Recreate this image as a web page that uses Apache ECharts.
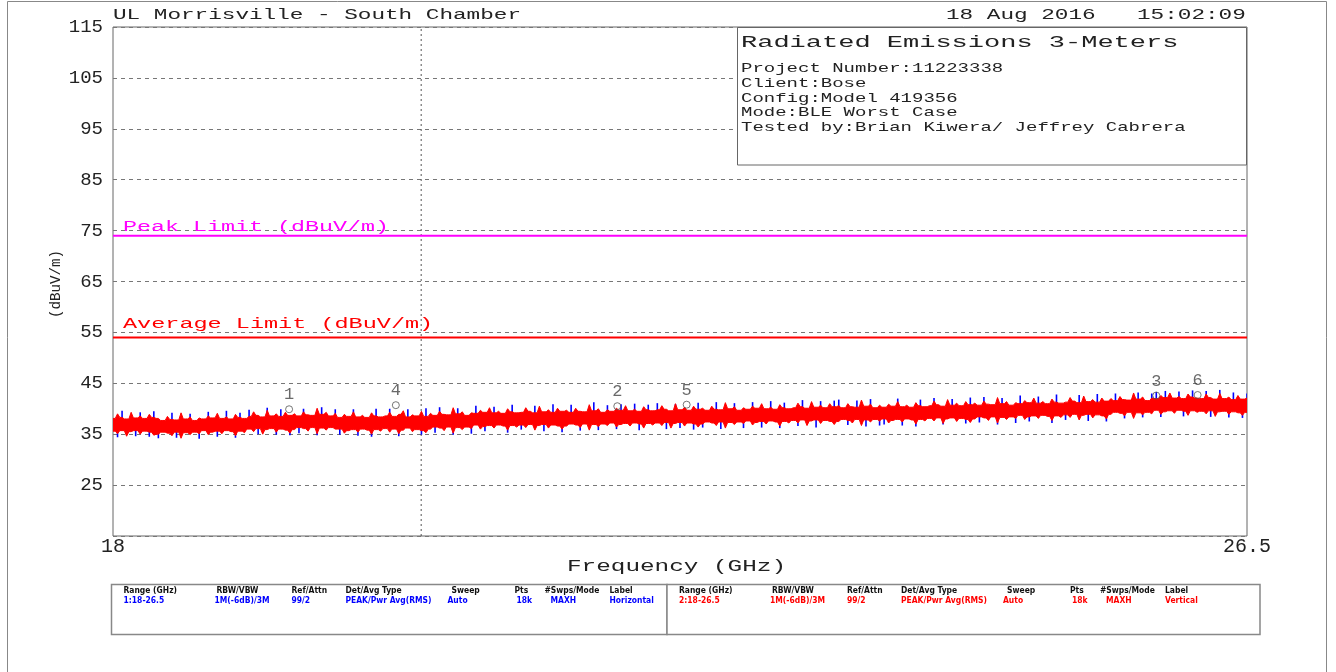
<!DOCTYPE html>
<html>
<head>
<meta charset="utf-8">
<title>Radiated Emissions 3-Meters</title>
<script src="https://cdn.jsdelivr.net/npm/echarts@6/dist/echarts.min.js"></script>
<style>
  html, body { margin: 0; padding: 0; background: #fff; }
  #chart { width: 1336px; height: 672px; }
</style>
</head>
<body>
<div id="chart"></div>
<script>
// Sweep span (GHz) and level scale (dBuV/m)
const startGHz = 18;
const stopGHz = 26.5;
const yMin = 15;
const yMax = 115;

// Per-bin envelope (max / min hold) of the two analyzer traces, 251 display bins across the span
const redHi = [
  38.1, 39.0, 38.3, 38.0, 39.3, 38.2, 38.6, 38.1, 38.9, 38.3,
  38.1, 37.7, 38.5, 37.9, 37.8, 39.2, 38.0, 38.4, 37.7, 38.2,
  38.0, 38.6, 38.2, 39.1, 38.1, 38.4, 38.0, 38.9, 38.3, 38.1,
  38.5, 39.4, 38.7, 38.4, 39.7, 38.6, 39.0, 38.5, 39.3, 38.7,
  39.0, 38.6, 39.4, 38.8, 38.7, 40.1, 38.9, 39.3, 38.6, 39.1,
  38.3, 38.9, 38.5, 39.4, 38.4, 38.7, 38.3, 39.2, 38.6, 38.4,
  38.6, 39.3, 38.5, 38.9, 39.6, 38.4, 38.8, 38.6, 39.5, 38.5,
  39.1, 38.7, 39.5, 38.9, 38.8, 40.2, 39.0, 39.4, 38.7, 39.2,
  39.1, 39.7, 39.3, 40.2, 39.2, 39.5, 39.1, 40.0, 39.4, 39.2,
  39.3, 40.2, 39.5, 39.2, 40.5, 39.4, 39.8, 39.3, 40.1, 39.5,
  39.7, 39.3, 40.1, 39.5, 39.4, 40.8, 39.6, 40.0, 39.3, 39.8,
  39.5, 40.1, 39.7, 40.6, 39.6, 39.9, 39.5, 40.4, 39.8, 39.6,
  39.8, 40.6, 39.9, 39.6, 41.0, 39.8, 40.3, 39.7, 40.5, 39.9,
  40.1, 39.7, 40.5, 39.9, 39.8, 41.2, 40.0, 40.4, 39.7, 40.2,
  39.9, 40.5, 40.1, 41.0, 40.0, 40.3, 39.9, 40.8, 40.2, 40.0,
  40.2, 41.1, 40.4, 40.1, 41.4, 40.3, 40.7, 40.2, 41.0, 40.4,
  40.6, 40.2, 41.0, 40.4, 40.3, 41.7, 40.5, 40.9, 40.2, 40.7,
  40.3, 40.9, 40.5, 41.4, 40.4, 40.7, 40.3, 41.2, 40.6, 40.4,
  40.6, 41.5, 40.8, 40.5, 41.8, 40.7, 41.1, 40.6, 41.4, 40.8,
  41.1, 40.7, 41.5, 40.9, 40.8, 42.2, 41.0, 41.4, 40.7, 41.2,
  41.0, 41.6, 41.2, 42.1, 41.1, 41.4, 41.0, 41.9, 41.3, 41.1,
  41.3, 42.2, 41.5, 41.2, 42.5, 41.4, 41.8, 41.3, 42.1, 41.5,
  42.0, 41.6, 42.4, 41.8, 41.7, 43.1, 41.9, 42.3, 41.6, 42.1,
  42.0, 42.6, 42.2, 43.1, 42.1, 42.4, 42.0, 42.9, 42.3, 42.1,
  42.0, 42.9, 42.2, 41.9, 43.0, 42.0, 42.3, 41.8, 42.6, 41.9, 42.1
];
const redLo = [
  35.6, 35.1, 35.7, 34.6, 35.5, 35.7, 35.0, 35.6, 35.4, 34.8,
  35.0, 35.4, 35.2, 34.7, 35.4, 34.2, 35.3, 34.9, 35.4, 35.1,
  35.7, 34.9, 35.4, 35.6, 35.1, 35.7, 35.5, 34.7, 35.6, 35.3,
  36.0, 35.5, 36.1, 35.0, 35.9, 36.1, 35.4, 36.0, 35.8, 35.2,
  35.9, 36.3, 36.1, 35.6, 36.3, 35.1, 36.2, 35.8, 36.3, 36.0,
  36.0, 35.2, 35.7, 35.9, 35.4, 36.0, 35.8, 35.0, 35.9, 35.6,
  36.1, 35.4, 36.0, 35.1, 35.8, 36.2, 35.5, 35.9, 35.7, 35.3,
  36.0, 36.4, 36.2, 35.7, 36.4, 35.2, 36.3, 35.9, 36.4, 36.1,
  36.8, 36.0, 36.5, 36.7, 36.2, 36.8, 36.6, 35.8, 36.7, 36.4,
  36.8, 36.3, 36.9, 35.8, 36.7, 36.9, 36.2, 36.8, 36.6, 36.0,
  36.6, 37.0, 36.8, 36.3, 37.0, 35.8, 36.9, 36.5, 37.0, 36.7,
  37.2, 36.4, 36.9, 37.1, 36.6, 37.2, 37.0, 36.2, 37.1, 36.8,
  37.2, 36.7, 37.3, 36.2, 37.1, 37.3, 36.6, 37.2, 37.0, 36.4,
  37.0, 37.4, 37.2, 36.7, 37.4, 36.2, 37.3, 36.9, 37.4, 37.1,
  37.6, 36.8, 37.3, 37.5, 37.0, 37.6, 37.4, 36.6, 37.5, 37.2,
  37.7, 37.2, 37.8, 36.7, 37.6, 37.8, 37.1, 37.7, 37.5, 36.9,
  37.5, 37.9, 37.7, 37.2, 37.9, 36.7, 37.8, 37.4, 37.9, 37.6,
  38.0, 37.2, 37.7, 37.9, 37.4, 38.0, 37.8, 37.0, 37.9, 37.6,
  38.1, 37.6, 38.2, 37.1, 38.0, 38.2, 37.5, 38.1, 37.9, 37.3,
  38.0, 38.4, 38.2, 37.7, 38.4, 37.2, 38.3, 37.9, 38.4, 38.1,
  38.7, 37.9, 38.4, 38.6, 38.1, 38.7, 38.5, 37.7, 38.6, 38.3,
  38.8, 38.3, 38.9, 37.8, 38.7, 38.9, 38.2, 38.8, 38.6, 38.0,
  38.9, 39.3, 39.1, 38.6, 39.3, 38.1, 39.2, 38.8, 39.3, 39.0,
  39.7, 38.9, 39.4, 39.6, 39.1, 39.7, 39.5, 38.7, 39.6, 39.3,
  39.5, 39.0, 39.6, 38.5, 39.4, 39.5, 38.9, 39.4, 39.2, 38.7, 39.3
];
const blueHi = [
  37.9, 37.9, 39.6, 37.9, 37.9, 37.9, 39.3, 37.9, 37.9, 39.5,
  37.6, 37.6, 37.6, 39.2, 37.6, 37.6, 37.6, 39.0, 37.6, 37.6,
  37.9, 39.4, 37.9, 37.9, 37.9, 39.6, 37.9, 37.9, 39.2, 37.9,
  39.8, 38.3, 38.3, 38.3, 40.2, 38.3, 38.3, 39.9, 38.3, 38.3,
  38.5, 38.5, 40.0, 38.5, 38.5, 38.5, 40.3, 38.5, 38.5, 39.9,
  38.2, 38.2, 38.2, 39.9, 38.2, 38.2, 38.2, 38.2, 40.0, 38.2,
  38.3, 40.0, 38.3, 38.3, 38.3, 39.9, 38.3, 38.3, 38.3, 40.1,
  38.6, 38.6, 40.3, 38.6, 38.6, 38.6, 40.1, 38.6, 38.6, 38.6,
  40.6, 39.0, 39.0, 39.0, 40.4, 39.0, 39.0, 39.0, 40.8, 39.0,
  39.1, 39.1, 39.1, 40.6, 39.1, 39.1, 39.1, 40.9, 39.1, 39.1,
  39.2, 40.8, 39.2, 39.2, 39.2, 39.2, 41.3, 39.2, 39.2, 40.7,
  39.4, 39.4, 40.9, 39.4, 39.4, 41.0, 39.4, 39.4, 40.8, 39.4,
  41.1, 39.5, 39.5, 39.5, 40.9, 39.5, 39.5, 39.5, 39.5, 41.2,
  39.6, 39.6, 39.6, 41.3, 39.6, 39.6, 39.6, 41.1, 39.6, 39.6,
  39.8, 41.3, 39.8, 39.8, 39.8, 41.5, 39.8, 39.8, 41.2, 39.8,
  40.0, 40.0, 41.7, 40.0, 40.0, 40.0, 41.5, 40.0, 40.0, 41.6,
  41.8, 40.1, 40.1, 40.1, 41.6, 40.1, 40.1, 41.9, 40.1, 40.1,
  40.2, 40.2, 40.2, 42.0, 40.2, 40.2, 40.2, 40.2, 41.8, 40.2,
  40.4, 42.1, 40.4, 40.4, 40.4, 41.9, 40.4, 40.4, 40.4, 42.2,
  40.6, 40.6, 42.3, 40.6, 40.6, 40.6, 42.1, 40.6, 40.6, 40.6,
  42.6, 40.9, 40.9, 40.9, 42.4, 40.9, 40.9, 40.9, 42.8, 40.9,
  41.1, 41.1, 41.1, 42.7, 41.1, 41.1, 41.1, 42.9, 41.1, 41.1,
  41.5, 43.0, 41.5, 41.5, 41.5, 41.5, 43.2, 41.5, 41.5, 43.0,
  43.3, 41.9, 43.5, 41.9, 41.9, 43.4, 41.9, 41.9, 43.6, 41.9,
  41.7, 43.5, 41.7, 41.7, 43.7, 41.7, 41.7, 43.2, 41.7, 41.7, 43.0
];
const blueLo = [
  35.9, 34.4, 35.9, 35.9, 35.9, 34.6, 35.9, 35.9, 34.5, 35.9,
  34.2, 35.6, 35.6, 35.6, 34.3, 35.6, 35.6, 35.6, 35.6, 34.1,
  35.9, 35.9, 35.9, 34.5, 35.9, 35.9, 35.9, 34.3, 35.9, 35.9,
  36.3, 36.3, 35.0, 36.3, 36.3, 36.3, 34.9, 36.3, 36.3, 34.8,
  36.5, 35.2, 36.5, 36.5, 36.5, 34.8, 36.5, 36.5, 36.5, 36.5,
  34.9, 36.2, 36.2, 36.2, 34.7, 36.2, 36.2, 34.5, 36.2, 36.2,
  36.3, 36.3, 36.3, 34.6, 36.3, 36.3, 36.3, 36.3, 34.9, 36.3,
  36.6, 35.3, 36.6, 36.6, 36.6, 34.9, 36.6, 36.6, 36.6, 35.1,
  37.0, 37.0, 35.6, 37.0, 37.0, 37.0, 37.0, 35.3, 37.0, 37.0,
  35.9, 37.1, 37.1, 37.1, 37.1, 35.6, 37.1, 37.1, 37.1, 35.4,
  37.2, 37.2, 37.2, 35.7, 37.2, 37.2, 37.2, 35.8, 37.2, 37.2,
  37.4, 36.0, 37.4, 37.4, 37.4, 37.4, 35.8, 37.4, 37.4, 37.4,
  37.5, 37.5, 36.0, 37.5, 37.5, 36.2, 37.5, 37.5, 35.9, 37.5,
  36.3, 37.6, 37.6, 37.6, 36.0, 37.6, 37.6, 37.6, 37.6, 36.2,
  37.8, 37.8, 37.8, 36.3, 37.8, 37.8, 37.8, 36.2, 37.8, 37.8,
  38.0, 36.6, 38.0, 38.0, 38.0, 36.3, 38.0, 38.0, 38.0, 38.0,
  38.1, 38.1, 36.8, 38.1, 38.1, 38.1, 36.5, 38.1, 38.1, 36.7,
  36.9, 38.2, 38.2, 38.2, 36.7, 38.2, 38.2, 36.5, 38.2, 38.2,
  38.4, 38.4, 38.4, 36.9, 38.4, 38.4, 38.4, 38.4, 37.1, 38.4,
  38.6, 37.3, 38.6, 38.6, 38.6, 36.9, 38.6, 38.6, 38.6, 37.2,
  38.9, 38.9, 37.5, 38.9, 38.9, 38.9, 38.9, 37.2, 38.9, 38.9,
  37.8, 39.1, 39.1, 39.1, 39.1, 37.6, 39.1, 39.1, 39.1, 37.5,
  39.5, 39.5, 39.5, 38.1, 39.5, 39.5, 39.5, 38.3, 39.5, 39.5,
  39.9, 38.4, 39.9, 39.9, 39.9, 39.9, 38.5, 39.9, 39.9, 39.9,
  39.7, 39.7, 38.4, 39.7, 39.7, 39.7, 38.3, 39.7, 39.7, 38.2, 39.7
];

// Limit lines (dBuV/m)
const peakLimit = 74;
const avgLimit = 54;

// Vertical display line (GHz)
const displayLineGHz = 20.31;

// Peak markers
const markerLabels = ['1', '2', '3', '4', '5', '6'];
const markerFreq = [19.32, 21.78, 25.82, 20.12, 22.30, 26.13];
const markerLevel = [39.9, 40.5, 42.6, 40.7, 40.8, 42.7];

// Axis tick labels
const yTickLabels = ['25', '35', '45', '55', '65', '75', '85', '95', '105', '115'];
const xTickValues = [18, 26.5];
const xTickLabels = ['18', '26.5'];

// Header texts
const siteTitle = 'UL Morrisville - South Chamber';
const testDate = '18 Aug 2016';
const testTime = '15:02:09';
const infoHeading = 'Radiated Emissions 3-Meters';
const infoLines = [
  'Project Number:11223338',
  'Client:Bose',
  'Config:Model 419356',
  'Mode:BLE Worst Case',
  'Tested by:Brian Kiwera/ Jeffrey Cabrera'
];

// Sweep settings table
const tableHeaders = ['Range (GHz)', 'RBW/VBW', 'Ref/Attn', 'Det/Avg Type', 'Sweep', 'Pts', '#Swps/Mode', 'Label'];
const sweep1Values = ['1:18-26.5', '1M(-6dB)/3M', '99/2', 'PEAK/Pwr Avg(RMS)', 'Auto', '18k', 'MAXH', 'Horizontal'];
const sweep2Values = ['2:18-26.5', '1M(-6dB)/3M', '99/2', 'PEAK/Pwr Avg(RMS)', 'Auto', '18k', 'MAXH', 'Vertical'];

// ---------------------------------------------------------------------------
const MONO = '"Liberation Mono", "DejaVu Sans Mono", monospace';
const NARROW = '"Liberation Sans Narrow", "DejaVu Sans Condensed", "Liberation Sans", sans-serif';
const INK = '#222';

const binCount = redHi.length;
const freqs = redHi.map((_, i) => startGHz + i * (stopGHz - startGHz) / (binCount - 1));

const measureCtx = document.createElement('canvas').getContext('2d');
function advanceOf(font, text) {
  measureCtx.font = font;
  return measureCtx.measureText(text).width;
}

// Plotter-style text: fixed character cell, stretched horizontally
function plotterText(text, x, y, size, cell, color, opts) {
  const font = size + 'px ' + MONO;
  const sx = cell / advanceOf(font, 'M');
  return Object.assign({
    type: 'text', x: x, y: y, scaleX: sx, z: 30, silent: true,
    style: { text: text, font: font, fill: color, align: 'left', verticalAlign: 'middle' }
  }, opts || {});
}

// Filled min/max band of a trace; each bin's max / min is drawn as a narrow peak
function traceBand(name, hi, lo, color, z) {
  return {
    type: 'custom', name: name, z: z, silent: true, clip: true,
    coordinateSystem: 'cartesian2d',
    data: [[freqs[0], lo[0]]],
    renderItem: function (params, api) {
      const pts = [];
      const n = hi.length;
      for (let i = 0; i < n; i++) {
        pts.push(api.coord([freqs[i], hi[i]]));
        if (i < n - 1) pts.push(api.coord([(freqs[i] + freqs[i + 1]) / 2, Math.min(hi[i], hi[i + 1])]));
      }
      for (let i = n - 1; i >= 0; i--) {
        pts.push(api.coord([freqs[i], lo[i]]));
        if (i > 0) pts.push(api.coord([(freqs[i] + freqs[i - 1]) / 2, Math.max(lo[i], lo[i - 1])]));
      }
      return {
        type: 'polygon', shape: { points: pts },
        style: { fill: color, stroke: color, lineWidth: 1 }
      };
    }
  };
}

// One vertical min-to-max stroke per display bin
function traceStrokes(name, hi, lo, color, z) {
  return {
    type: 'custom', name: name, z: z, silent: true, clip: true,
    coordinateSystem: 'cartesian2d',
    encode: { x: 0, y: [1, 2] },
    data: freqs.map((f, i) => [f, lo[i], hi[i]]),
    renderItem: function (params, api) {
      const a = api.coord([api.value(0), api.value(1)]);
      const b = api.coord([api.value(0), api.value(2)]);
      return {
        type: 'line', shape: { x1: a[0], y1: a[1], x2: b[0], y2: b[1] },
        style: { stroke: color, lineWidth: 1.6 }
      };
    }
  };
}

const graphics = [];
// outer page frame
graphics.push({ type: 'rect', z: 1, silent: true,
  shape: { x: 7.5, y: 1.5, width: 1319, height: 700 },
  style: { fill: 'none', stroke: '#888', lineWidth: 1 } });
// information box
graphics.push({ type: 'rect', z: 20, silent: true,
  shape: { x: 737.5, y: 27.5, width: 509, height: 137.5 },
  style: { fill: '#fff', stroke: '#666', lineWidth: 1 } });
// settings table boxes
graphics.push({ type: 'rect', z: 20, silent: true,
  shape: { x: 111.5, y: 584.5, width: 555.5, height: 50 },
  style: { fill: '#fff', stroke: '#888', lineWidth: 1.5 } });
graphics.push({ type: 'rect', z: 20, silent: true,
  shape: { x: 667, y: 584.5, width: 593, height: 50 },
  style: { fill: '#fff', stroke: '#888', lineWidth: 1.5 } });

graphics.push(plotterText(siteTitle, 113, 15, 14, 13.6, INK));
graphics.push(plotterText(testDate, 946, 15, 14, 13.6, INK));
graphics.push(plotterText(testTime, 1137, 15, 14, 13.6, INK));
graphics.push(plotterText(infoHeading, 741, 43, 16, 16.2, INK));
infoLines.forEach((t, i) => graphics.push(plotterText(t, 741, 69 + i * 14.6, 13, 11.4, INK)));
graphics.push(plotterText('Peak Limit (dBuV/m)', 123, 227, 14, 14.0, '#ff00ff'));
graphics.push(plotterText('Average Limit (dBuV/m)', 123, 324, 14, 14.1, '#ff0000'));
graphics.push(plotterText('Frequency (GHz)', 567, 567, 16, 14.6, INK));
// vertical axis title, reading bottom-to-top
(function () {
  const font = '14px ' + MONO;
  const sx = 8.5 / advanceOf(font, 'M');
  graphics.push({ type: 'text', x: 56, y: 284, rotation: Math.PI / 2, scaleX: sx, z: 30, silent: true,
    style: { text: '(dBuV/m)', font: font, fill: INK, align: 'center', verticalAlign: 'middle' } });
})();

// settings table text
(function () {
  const font = 'bold 9px ' + NARROW;
  const sx = 86 / advanceOf(font, 'PEAK/Pwr Avg(RMS)');
  const headOffsets = [12, 105, 180, 234, 340, 403, 433, 498];
  const valOffsets = [12, 103, 180, 234, 336, 405, 439, 498];
  const boxes = [{ left: 111.5, values: sweep1Values, color: '#0000ff' },
                 { left: 667, values: sweep2Values, color: '#ff0000' }];
  boxes.forEach(b => {
    tableHeaders.forEach((h, i) => graphics.push({ type: 'text', x: b.left + headOffsets[i], y: 591, scaleX: sx, z: 30, silent: true,
      style: { text: h, font: font, fill: '#111', align: 'left', verticalAlign: 'middle' } }));
    b.values.forEach((v, i) => graphics.push({ type: 'text', x: b.left + valOffsets[i], y: 601, scaleX: sx, z: 30, silent: true,
      style: { text: v, font: font, fill: b.color, align: 'left', verticalAlign: 'middle' } }));
  });
})();

const chart = echarts.init(document.getElementById('chart'), null, { renderer: 'canvas' });
chart.setOption({
  backgroundColor: '#fff',
  animation: false,
  grid: { left: 113, right: 89, top: 27, bottom: 136, show: true, borderColor: '#666', borderWidth: 1,
          backgroundColor: 'transparent', outerBoundsMode: 'none' },
  xAxis: {
    type: 'value', min: startGHz, max: stopGHz, interval: stopGHz - startGHz,
    axisLine: { show: false }, axisTick: { show: false }, splitLine: { show: false },
    axisLabel: {
      customValues: xTickValues, showMinLabel: true, showMaxLabel: true,
      formatter: v => { const k = xTickValues.indexOf(v); return k >= 0 ? xTickLabels[k] : ''; },
      fontFamily: MONO, fontSize: 20, color: INK, margin: 1
    }
  },
  yAxis: {
    type: 'value', min: yMin, max: yMax, interval: 10,
    axisLine: { show: false }, axisTick: { show: false },
    splitLine: { show: true, lineStyle: { color: '#777', width: 1, type: [4, 4] } },
    axisLabel: {
      formatter: v => yTickLabels.indexOf(String(v)) >= 0 ? String(v) : '',
      fontFamily: MONO, fontSize: 19, color: INK, margin: 10
    }
  },
  graphic: graphics,
  series: [
    traceStrokes('Horizontal', blueHi, blueLo, '#0000ff', 2),
    traceBand('Vertical', redHi, redLo, '#ff0000', 3),
    {
      type: 'line', name: 'Display line', silent: true, z: 1, symbol: 'none',
      data: [[displayLineGHz, yMin], [displayLineGHz, yMax]],
      lineStyle: { color: '#555', width: 1, type: [2, 3] }
    },
    {
      type: 'line', name: 'Peak Limit', silent: true, z: 4, symbol: 'none',
      data: [[startGHz, peakLimit], [stopGHz, peakLimit]],
      lineStyle: { color: '#ff00ff', width: 2 }
    },
    {
      type: 'line', name: 'Average Limit', silent: true, z: 4, symbol: 'none',
      data: [[startGHz, avgLimit], [stopGHz, avgLimit]],
      lineStyle: { color: '#ff0000', width: 2 }
    },
    {
      type: 'scatter', name: 'Markers', silent: true, z: 6,
      data: markerFreq.map((f, i) => [f, markerLevel[i], markerLabels[i]]),
      symbol: 'circle', symbolSize: 7,
      itemStyle: { color: 'rgba(0,0,0,0)', borderColor: '#555', borderWidth: 1 },
      label: {
        show: true, position: 'top', distance: 2,
        formatter: p => p.data[2],
        fontFamily: MONO, fontSize: 17, color: '#444'
      }
    }
  ]
});
</script>
</body>
</html>
